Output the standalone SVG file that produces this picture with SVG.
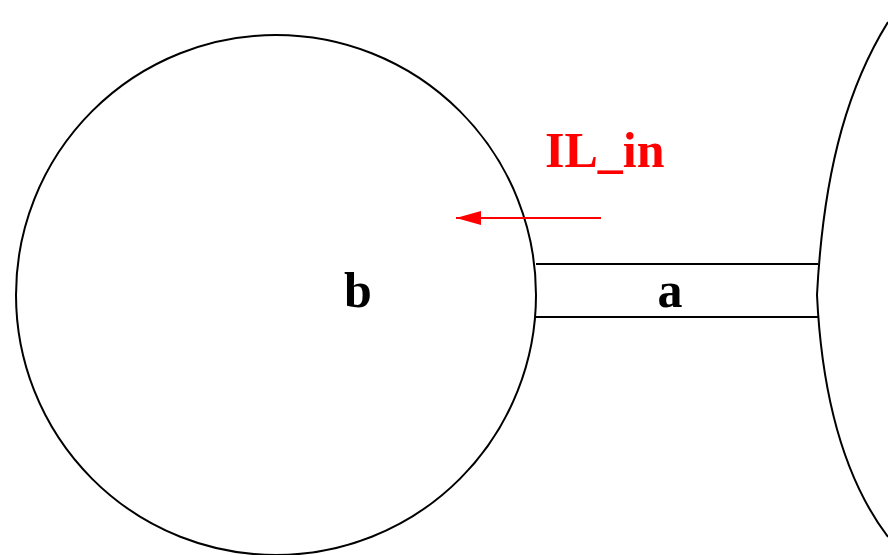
<svg xmlns="http://www.w3.org/2000/svg" width="888" height="555" viewBox="0 0 888 555">
<style>
.s{fill:none;stroke:#000;stroke-width:2}
.t{font-family:"Liberation Serif","Times New Roman",serif;font-weight:bold;font-size:50px;text-anchor:middle}
</style>
<defs>
<marker id="ah" markerUnits="userSpaceOnUse" markerWidth="26" markerHeight="14" refX="25" refY="7" orient="auto">
<path d="M0,0 L25,7 L0,14 Z" fill="#f00"/>
</marker>
</defs>
<rect width="888" height="555" fill="#fff"/>
<g id="node-b">
<circle class="s" cx="276" cy="295" r="260"/>
<text class="t" x="358" y="307">b</text>
</g>
<g id="node-a">
<line class="s" x1="536" y1="264" x2="818" y2="264"/>
<line class="s" x1="536" y1="317" x2="818" y2="317"/>
<text class="t" x="670" y="307">a</text>
</g>
<g id="node-right">
<path class="s" d="M888,22 C852,80 824,160 817,295 C822,400 845,480 888,537"/>
</g>
<g id="connectors">
<line x1="601" y1="218" x2="456" y2="218" stroke="#f00" stroke-width="2" marker-end="url(#ah)"/>
<text class="t" x="545" y="167" fill="#f00" style="text-anchor:start">IL_in</text>
</g>
</svg>
